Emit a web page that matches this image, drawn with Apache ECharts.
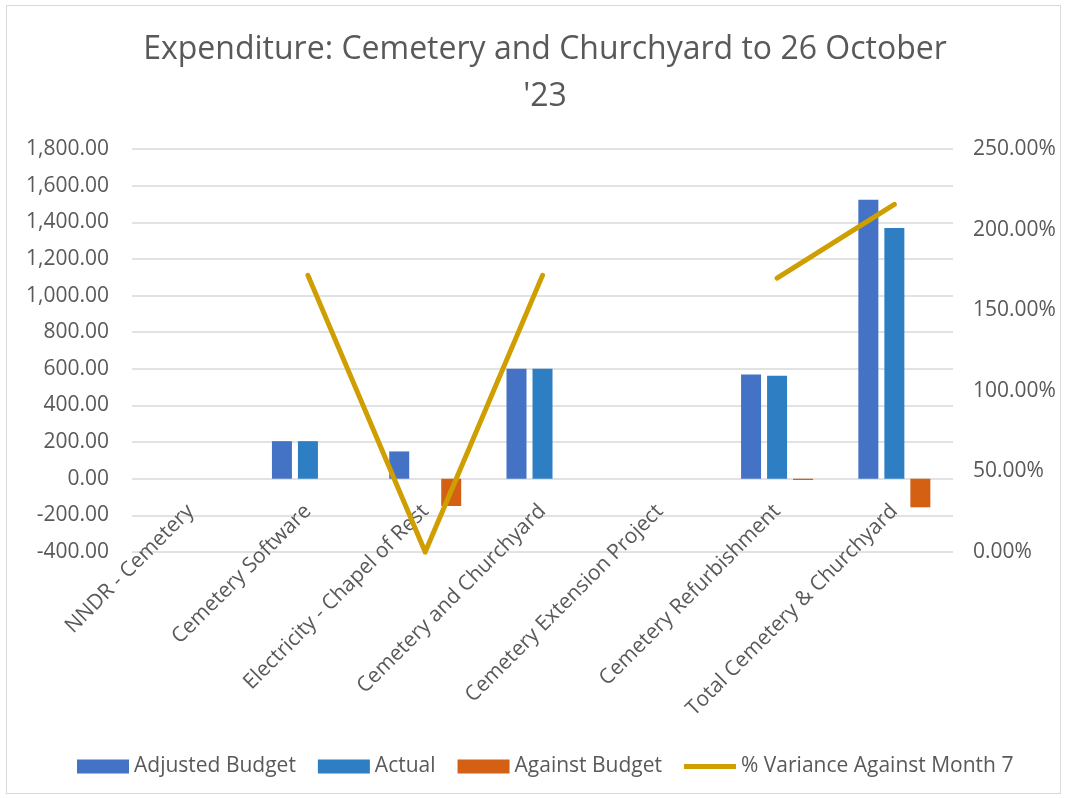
<!DOCTYPE html>
<html>
<head>
<meta charset="utf-8">
<title>Expenditure: Cemetery and Churchyard</title>
<script src="https://cdn.jsdelivr.net/npm/echarts@6/dist/echarts.min.js"></script>
<style>
  html, body { margin: 0; padding: 0; background: #fff; }
  #frame { position: absolute; left: 6px; top: 5px; width: 1053px; height: 787px; border: 1px solid #d9d9d9; }
  #chart { position: absolute; left: 0; top: 0; width: 1065px; height: 798px; }
</style>
</head>
<body>
<div id="frame"></div>
<div id="chart"></div>
<script>
// data
var categories = ['NNDR - Cemetery', 'Cemetery Software', 'Electricity - Chapel of Rest',
    'Cemetery and Churchyard', 'Cemetery Extension Project', 'Cemetery Refurbishment',
    'Total Cemetery & Churchyard'];
var adjustedBudget = [0, 205, 149, 600, 0, 569, 1523];
var actual = [0, 205, 0, 600, 0, 562, 1369];
var againstBudget = [0, 0, -149, 0, 0, -7, -156];
var variancePct = [null, 171.6, 0, 171.6, null, 169.9, 215.6];

var FONT = '"Open Sans", sans-serif';
var GREY = '#595959';
var FS = 21;

var chart = echarts.init(document.getElementById('chart'));

function money(v) {
    return v.toLocaleString('en-US', { minimumFractionDigits: 2, maximumFractionDigits: 2 });
}

var option = {
    backgroundColor: 'transparent',
    textStyle: { fontFamily: FONT },
    title: {
        text: "Expenditure: Cemetery and Churchyard to 26 October\n'23",
        left: 540,
        textAlign: 'center',
        top: 21,
        textStyle: { fontFamily: FONT, fontSize: 32, fontWeight: 'normal', color: GREY, lineHeight: 47 }
    },
    legend: {
        top: 751,
        left: 72,
        itemWidth: 52,
        itemHeight: 14,
        itemGap: 22,
        textStyle: { fontFamily: FONT, fontSize: FS, color: GREY },
        data: [
            { name: 'Adjusted Budget', icon: 'rect' },
            { name: 'Actual', icon: 'rect' },
            { name: 'Against Budget', icon: 'rect' },
            { name: '% Variance Against Month 7', icon: 'path://M0,0L60,0L60,6L0,6Z' }
        ]
    },
    grid: { left: 132, right: 112, top: 149, bottom: 246 },
    xAxis: {
        type: 'category',
        data: categories,
        axisLine: { show: false, onZero: false },
        axisTick: { show: false },
        axisLabel: { rotate: 45, interval: 0, fontSize: FS, color: GREY, fontFamily: FONT, margin: -44 }
    },
    yAxis: [
        {
            type: 'value',
            min: -400, max: 1800, interval: 200,
            axisLine: { show: false },
            axisTick: { show: false },
            axisLabel: { fontSize: FS, color: GREY, fontFamily: FONT, margin: 23, formatter: money },
            splitLine: { lineStyle: { color: '#d9d9d9', width: 1.5 } }
        },
        {
            type: 'value',
            min: 0, max: 250, interval: 50,
            axisLine: { show: false },
            axisTick: { show: false },
            axisLabel: {
                fontSize: FS, color: GREY, fontFamily: FONT, margin: 20,
                formatter: function (v) { return v.toFixed(2) + '%'; }
            },
            splitLine: { show: false }
        }
    ],
    series: [
        {
            name: 'Adjusted Budget', type: 'bar', data: adjustedBudget,
            barWidth: 20, barGap: '30%',
            itemStyle: { color: '#4472c4' }
        },
        {
            name: 'Actual', type: 'bar', data: actual,
            barWidth: 20, barGap: '30%',
            itemStyle: { color: '#2e7ec4' }
        },
        {
            name: 'Against Budget', type: 'bar', data: againstBudget,
            barWidth: 20, barGap: '30%',
            itemStyle: { color: '#d46014' }
        },
        {
            name: '% Variance Against Month 7', type: 'line', yAxisIndex: 1,
            data: variancePct,
            showSymbol: false, symbol: 'none',
            connectNulls: false,
            itemStyle: { color: '#cf9e00' },
            lineStyle: { color: '#cf9e00', width: 5, cap: 'round', join: 'miter' },
            z: 5
        }
    ]
};

chart.setOption(option);
</script>
</body>
</html>
